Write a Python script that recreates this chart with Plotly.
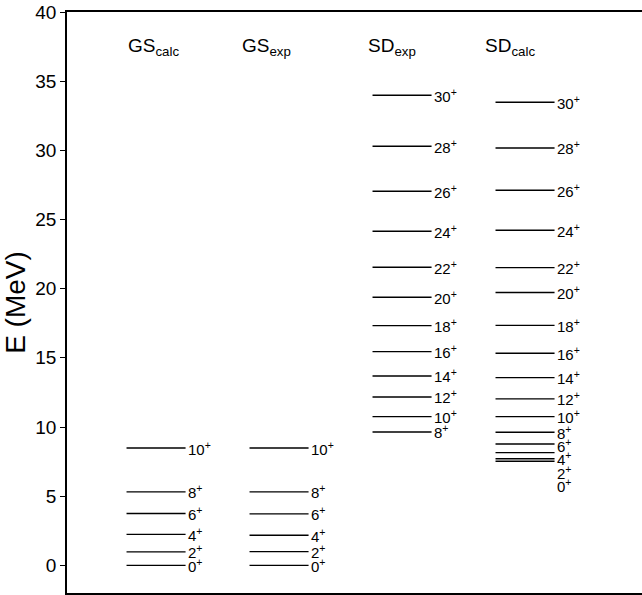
import plotly.graph_objects as go

# ---- data ----
columns = ["GS<sub>calc</sub>", "GS<sub>exp</sub>", "SD<sub>exp</sub>", "SD<sub>calc</sub>"]

gs_calc_spin = [0, 2, 4, 6, 8, 10]
gs_calc_E = [0.0, 0.97, 2.24, 3.75, 5.31, 8.48]

gs_exp_spin = [0, 2, 4, 6, 8, 10]
gs_exp_E = [0.0, 0.99, 2.17, 3.72, 5.31, 8.48]

sd_exp_spin = [8, 10, 12, 14, 16, 18, 20, 22, 24, 26, 28, 30]
sd_exp_E = [9.64, 10.75, 12.17, 13.69, 15.45, 17.33, 19.38, 21.55, 24.15, 27.04, 30.30, 33.98]

sd_calc_spin = [0, 2, 4, 6, 8, 10, 12, 14, 16, 18, 20, 22, 24, 26, 28, 30]
sd_calc_E = [7.52, 7.70, 8.15, 8.77, 9.62, 10.75, 12.03, 13.57, 15.33, 17.35, 19.72,
             21.52, 24.22, 27.11, 30.17, 33.48]

y_ticks = [0, 5, 10, 15, 20, 25, 30, 35, 40]

# ---- layout constants ----
HALF = 0.24          # half width of a level line (x units)
LABEL_GAP = 0.96     # minimum vertical spacing of spin labels (MeV)
header_shift = [-0.02, -0.10, -0.085, -0.12]
FONT = "Liberation Sans, Arial, sans-serif"

series = [(gs_calc_spin, gs_calc_E), (gs_exp_spin, gs_exp_E),
          (sd_exp_spin, sd_exp_E), (sd_calc_spin, sd_calc_E)]

fig = go.Figure()
annotations = []

for i, (spins, energies) in enumerate(series):
    c = i + 1
    xs, ys = [], []
    for e in energies:
        xs += [c - HALF, c + HALF, None]
        ys += [e, e, None]
    fig.add_trace(go.Scatter(x=xs, y=ys, mode="lines",
                             line=dict(color="black", width=1.4),
                             hoverinfo="skip", showlegend=False))
    # labels, from top down, pushed apart if too close
    order = sorted(range(len(energies)), key=lambda k: -energies[k])
    prev = None
    for k in order:
        ly = energies[k] if prev is None else min(energies[k], prev - LABEL_GAP)
        prev = ly
        annotations.append(dict(x=c + HALF, y=ly, xref="x", yref="y",
                                text=f"{spins[k]}<sup>+</sup>", showarrow=False,
                                xanchor="left", yanchor="middle",
                                font=dict(family=FONT, size=15, color="black")))
    annotations.append(dict(x=c + header_shift[i], y=37.5, xref="x", yref="y",
                            text=columns[i], showarrow=False,
                            xanchor="center", yanchor="middle",
                            font=dict(family=FONT, size=19, color="black")))

fig.update_layout(
    width=642, height=595,
    margin=dict(l=67, r=0, t=12, b=2),
    paper_bgcolor="white", plot_bgcolor="white",
    annotations=annotations,
    xaxis=dict(range=[0.276, 4.951], showticklabels=False, ticks="",
               showgrid=False, zeroline=False, showline=True, mirror=True,
               linecolor="black", linewidth=1.5),
    yaxis=dict(range=[-2, 40], tickvals=y_ticks, ticks="outside", ticklen=5,
               tickwidth=1, tickcolor="black", showgrid=False, zeroline=False,
               showline=True, mirror=False, linecolor="black", linewidth=1.5,
               tickfont=dict(family=FONT, size=19, color="black"),
               title=dict(text="E (MeV)", standoff=10,
                          font=dict(family=FONT, size=28, color="black"))),
)

fig.write_html("out.html")
